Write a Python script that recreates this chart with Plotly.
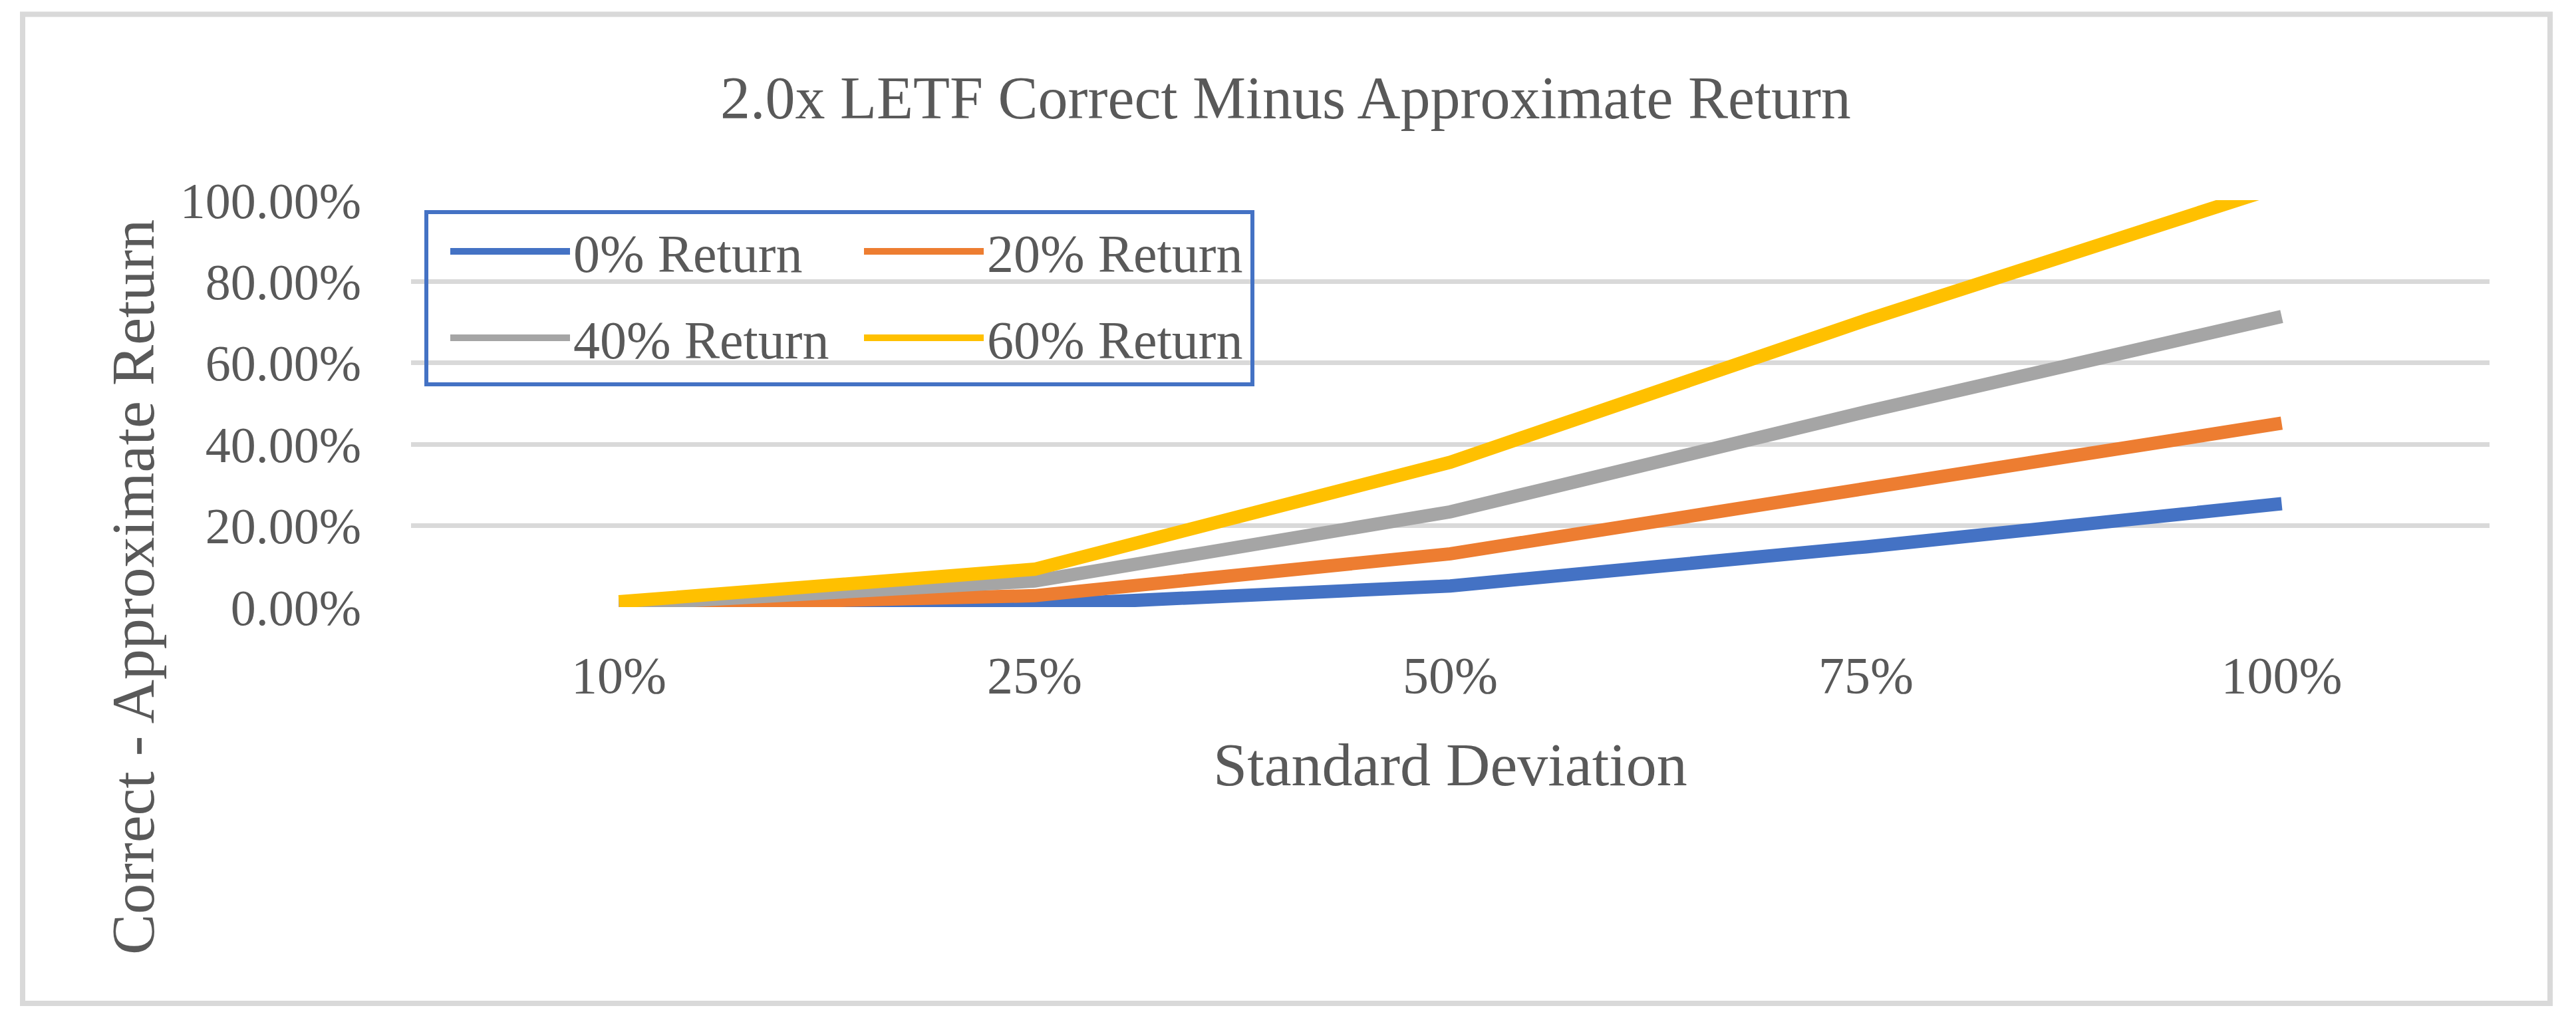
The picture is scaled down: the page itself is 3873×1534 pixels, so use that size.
import plotly.graph_objects as go

# ---- data ----
std_dev = ["10%", "25%", "50%", "75%", "100%"]
ret_0 = [0.001, 0.005, 0.052, 0.148, 0.254]
ret_20 = [0.003, 0.028, 0.131, 0.290, 0.452]
ret_40 = [0.006, 0.064, 0.234, 0.480, 0.714]
ret_60 = [0.013, 0.093, 0.356, 0.705, 1.035]
series_names = ["0% Return", "20% Return", "40% Return", "60% Return"]
series_values = [ret_0, ret_20, ret_40, ret_60]
series_colors = ["#4472C4", "#ED7D31", "#A5A5A5", "#FFC000"]
series_legend = ["legend", "legend", "legend2", "legend2"]
y_ticks = [0, 0.2, 0.4, 0.6, 0.8, 1.0]

W, H = 3873, 1534
L, R, T, B = 618, 3873 - 3743, 301, 1534 - 913
PW, PH = W - L - R, H - T - B

FONT = "Liberation Serif"
TXT = "#595959"

def px_x(x):
    return (x - L) / PW

def px_y(y):
    return (H - B - y) / PH

fig = go.Figure()
for name, vals, col, lg in zip(series_names, series_values, series_colors, series_legend):
    fig.add_trace(go.Scatter(
        x=std_dev, y=vals, name=name, mode="lines",
        line=dict(color=col, width=20),
        legend=lg,
    ))

leg_common = dict(
    orientation="h", xanchor="left", yanchor="middle",
    font=dict(family=FONT, size=80, color=TXT),
    bgcolor="rgba(0,0,0,0)", borderwidth=0,
    itemwidth=180, entrywidth=427, itemsizing="trace",
)

fig.update_layout(
    width=W, height=H,
    margin=dict(l=L, r=R, t=T, b=B, pad=0),
    paper_bgcolor="white", plot_bgcolor="white",
    showlegend=True,
    title=dict(
        text="2.0x LETF Correct Minus Approximate Return",
        xref="container", yref="container",
        x=1933 / W, y=1 - 146 / H, xanchor="center", yanchor="middle",
        font=dict(family=FONT, size=90, color=TXT),
    ),
    legend=dict(x=px_x(672), y=px_y(378), **leg_common),
    legend2=dict(x=px_x(672), y=px_y(508), **leg_common),
    xaxis=dict(
        type="category", range=[-0.5, 4.5],
        showgrid=False, showline=False, zeroline=False,
        ticks="", ticklabelstandoff=50,
        tickfont=dict(family=FONT, size=78, color=TXT),
    ),
    yaxis=dict(
        range=[0, 1], tickvals=y_ticks, tickformat=".2%",
        showgrid=True, gridcolor="#D9D9D9", gridwidth=7,
        showline=False, zeroline=False, ticks="", ticklabelstandoff=74,
        tickfont=dict(family=FONT, size=76, color=TXT),
    ),
    annotations=[
        dict(text="Standard Deviation", xref="paper", yref="paper",
             x=0.5, y=px_y(1150), xanchor="center", yanchor="middle",
             showarrow=False, font=dict(family=FONT, size=92, color=TXT)),
        dict(text="Correct - Approximate Return", xref="paper", yref="paper",
             x=px_x(200), y=px_y(883), xanchor="center", yanchor="middle",
             textangle=-90, showarrow=False,
             font=dict(family=FONT, size=92, color=TXT)),
    ],
    shapes=[
        dict(type="rect", xref="paper", yref="paper",
             x0=px_x(34), x1=px_x(3834), y0=px_y(1509), y1=px_y(21.5),
             line=dict(color="#D9D9D9", width=8), layer="below"),
        dict(type="rect", xref="paper", yref="paper",
             x0=px_x(641), x1=px_x(1883), y0=px_y(578), y1=px_y(319),
             line=dict(color="#4472C4", width=6), layer="above"),
    ],
)

fig.write_html(
    "out.html",
    config={"displayModeBar": False},
    post_script="document.body.style.margin='0px';document.body.style.overflow='hidden';",
)
